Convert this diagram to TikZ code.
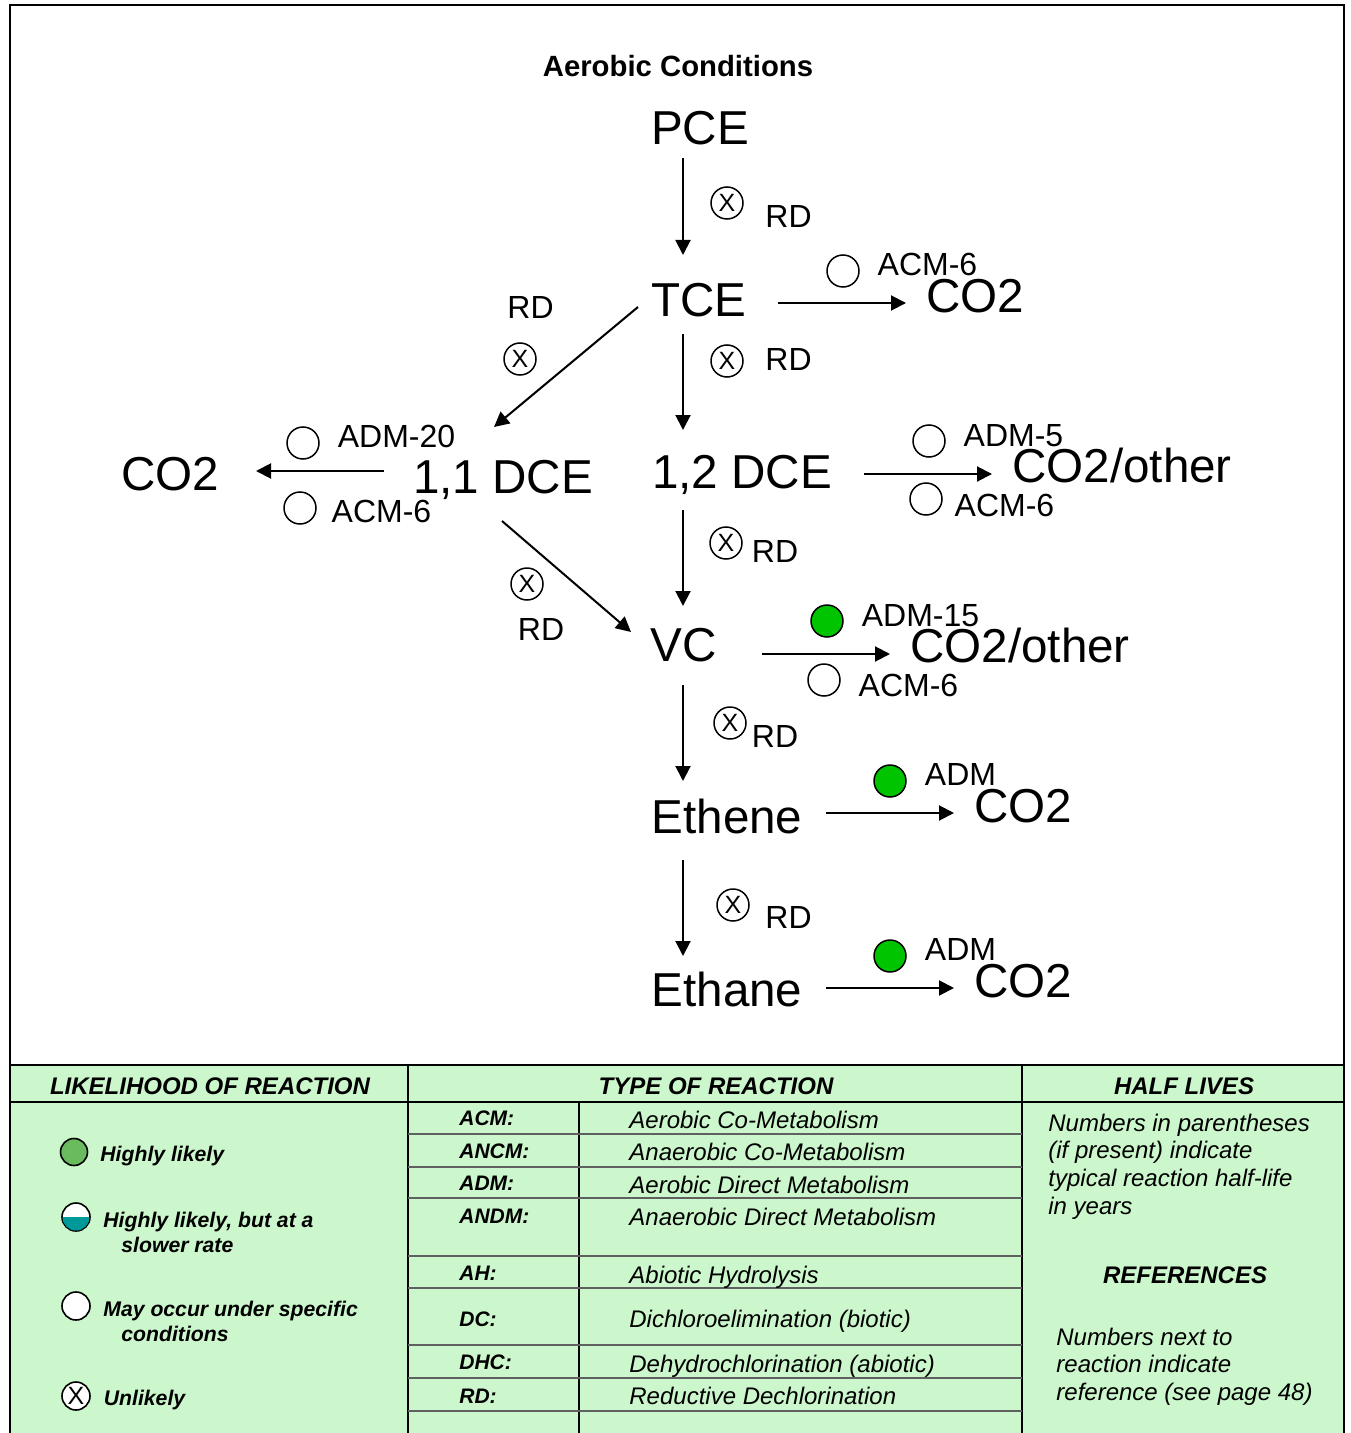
\documentclass[tikz,border=0pt]{standalone}
\usepackage{fontspec}
\setmainfont{Liberation Sans}
\usetikzlibrary{arrows.meta}
\definecolor{panel}{HTML}{CCF7CC}
\definecolor{okgreen}{HTML}{00C400}
\definecolor{leggreen}{HTML}{6ABB5E}
\definecolor{legteal}{HTML}{009999}
\definecolor{rowline}{HTML}{606060}
\tikzset{
  big/.style={font=\fontsize{23.8}{28}\selectfont,anchor=base,inner sep=0pt},
  lab/.style={font=\fontsize{16}{19}\selectfont,anchor=base,inner sep=0pt},
  ttl/.style={font=\fontsize{14.65}{17}\bfseries\selectfont,anchor=base,inner sep=0pt},
  hdr/.style={font=\fontsize{12}{15}\bfseries\itshape\selectfont,anchor=base,inner sep=0pt},
  legt/.style={font=\fontsize{10.6}{13}\bfseries\itshape\selectfont,anchor=base west,inner sep=0pt},
  abbr/.style={font=\fontsize{10.5}{13}\bfseries\itshape\selectfont,anchor=base west,inner sep=0pt},
  body/.style={font=\fontsize{12}{14}\itshape\selectfont,anchor=base west,inner sep=0pt},
  arr/.style={draw=black,line width=1pt,-{Triangle[length=7.5pt,width=7.5pt]}},
  open/.style={circle,draw=black,line width=0.75pt,fill=white,minimum size=16pt,inner sep=0pt},
  go/.style={open,fill=okgreen},
  xc/.style={open,font=\fontsize{12.5}{13}\selectfont},
  legopen/.style={circle,draw=black,line width=0.8pt,fill=white,minimum size=14pt,inner sep=0pt},
  rule/.style={line width=1pt,draw=black},
  row/.style={line width=1pt,draw=rowline},
  rowthin/.style={line width=0.6pt,draw=rowline},
}
\begin{document}
\begin{tikzpicture}[x=0.5pt,y=-0.5pt]
\useasboundingbox (0,0) rectangle (1350,1433);
\clip (0,0) rectangle (1350,1433);
% panel and frame
\fill[panel] (10,1065) rectangle (1344,1440);
\draw[rule] (10,1440) -- (10,5) -- (1344,5) -- (1344,1440);
\draw[rule] (10,1065) -- (1344,1065);
\draw[rule] (10,1102) -- (1344,1102);
\draw[rule] (408,1065) -- (408,1440);
\draw[rule] (1022,1065) -- (1022,1440);
\draw[rule] (579,1102) -- (579,1440);
\foreach \yy in {1134,1198,1256,1378,1411}
  \draw[row] (408,\yy) -- (1022,\yy);
\foreach \yy in {1167,1288,1345}
  \draw[rowthin] (408,\yy) -- (1022,\yy);
% title and compounds
\node[ttl] (title) at (678,77) {Aerobic Conditions};
\node[big] (PCE) at (700,144.5) {PCE};
\node[big] (TCE) at (699,316.5) {TCE};
\node[big] (co2a) at (975,313) {CO2};
\node[big] (dce12) at (742,488) {1,2 DCE};
\node[big] (othera) at (1122,482) {CO2/other};
\node[big] (dce11) at (503,493) {1,1 DCE};
\node[big] (co2b) at (170,490) {CO2};
\node[big] (VC) at (684,661) {VC};
\node[big] (otherb) at (1020,662) {CO2/other};
\node[big] (ethene) at (727,833) {Ethene};
\node[big] (co2c) at (1023,822) {CO2};
\node[big] (ethane) at (727,1006) {Ethane};
\node[big] (co2d) at (1023,997) {CO2};
% connectors (end points offset from the node base anchors)
\draw[arr] ([shift={(-17,13.5)}]PCE.base) -- ([shift={(-16,-61.5)}]TCE.base);
\draw[arr] ([shift={(79,-13.5)}]TCE.base) -- ([shift={(-69,-10)}]co2a.base);
\draw[arr] ([shift={(-16,17.5)}]TCE.base) -- ([shift={(-59,-58)}]dce12.base);
\draw[arr] ([shift={(-61,-9.5)}]TCE.base) -- ([shift={(-9,-66)}]dce11.base);
\draw[arr] ([shift={(-119,-22)}]dce11.base) -- ([shift={(86,-19)}]co2b.base);
\draw[arr] ([shift={(122,-14)}]dce12.base) -- ([shift={(-130,-8)}]othera.base);
\draw[arr] ([shift={(-59,22)}]dce12.base) -- ([shift={(-1,-55)}]VC.base);
\draw[arr] ([shift={(-1,28)}]dce11.base) -- ([shift={(-53,-29)}]VC.base);
\draw[arr] ([shift={(78,-7)}]VC.base) -- ([shift={(-130,-8)}]otherb.base);
\draw[arr] ([shift={(-1,24)}]VC.base) -- ([shift={(-44,-52)}]ethene.base);
\draw[arr] ([shift={(99,-20)}]ethene.base) -- ([shift={(-69,-9)}]co2c.base);
\draw[arr] ([shift={(-44,27)}]ethene.base) -- ([shift={(-44,-50)}]ethane.base);
\draw[arr] ([shift={(99,-18)}]ethane.base) -- ([shift={(-69,-9)}]co2d.base);
% reaction labels
\node[xc] (x1) at (727,203) {X}; \node[lab] (r1) at (788.5,228) {RD};
\node[open] (c1) at (843,271) {}; \node[lab] (a1) at (927.5,276) {ACM-6};
\node[lab] (r2) at (530.5,319) {RD}; \node[xc] (x2) at (520,359) {X};
\node[xc] (x3) at (727,361) {X}; \node[lab] (r3) at (788.5,371) {RD};
\node[open] (c2) at (303,443) {}; \node[lab] (a2) at (396.5,447) {ADM-20};
\node[open] (c3) at (300,508) {}; \node[lab] (a3) at (381.5,522) {ACM-6};
\node[open] (c4) at (929,441) {}; \node[lab] (a4) at (1013.5,446) {ADM-5};
\node[open] (c5) at (926,499) {}; \node[lab] (a5) at (1004.5,516) {ACM-6};
\node[xc] (x4) at (726,543) {X}; \node[lab] (r4) at (775,562) {RD};
\node[xc] (x5) at (527,584) {X}; \node[lab] (r5) at (541,640) {RD};
\node[go] (g1) at (827,621) {}; \node[lab] (a6) at (920.5,626) {ADM-15};
\node[open] (c6) at (824,680) {}; \node[lab] (a7) at (908.5,696) {ACM-6};
\node[xc] (x6) at (730,723) {X}; \node[lab] (r6) at (775,747) {RD};
\node[go] (g2) at (890,781) {}; \node[lab] (a8) at (960.5,785) {ADM};
\node[xc] (x7) at (733,905) {X}; \node[lab] (r7) at (788.5,928) {RD};
\node[go] (g3) at (890,956) {}; \node[lab] (a9) at (960.5,960) {ADM};
% headers
\node[hdr] (h1) at (210,1094) {LIKELIHOOD OF REACTION};
\node[hdr] (h2) at (716,1094) {TYPE OF REACTION};
\node[hdr] (h3) at (1184,1094) {HALF LIVES};
% legend
\node[legopen,fill=leggreen,minimum size=13.5pt] (l1) at (74,1152) {};
\node[legt] (lt1) at (100,1161) {Highly likely};
\node[legopen] (l2) at (76,1217) {};
\begin{scope}
  \clip (60,1217) rectangle (92,1235);
  \fill[legteal] (76,1217) circle (13.5);
\end{scope}
\node[legt] (lt2) at (103,1227) {Highly likely, but at a};
\node[legt] (lt2b) at (121,1252) {slower rate};
\node[legopen] (l3) at (76,1306) {};
\node[legt] (lt3) at (103,1316) {May occur under specific};
\node[legt] (lt3b) at (121,1341) {conditions};
\node[legopen,font=\fontsize{12.5}{13}\selectfont] (l4) at (76,1396) {X};
\node[legt] (lt4) at (103.5,1405) {Unlikely};
% reaction types
\node[abbr] (t1) at (459,1125) {ACM:};
\node[body] (d1) at (629,1128) {Aerobic Co-Metabolism};
\node[abbr] (t2) at (459,1158) {ANCM:};
\node[body] (d2) at (629,1160) {Anaerobic Co-Metabolism};
\node[abbr] (t3) at (459,1190) {ADM:};
\node[body] (d3) at (629,1193) {Aerobic Direct Metabolism};
\node[abbr] (t4) at (459,1223) {ANDM:};
\node[body] (d4) at (629,1225) {Anaerobic Direct Metabolism};
\node[abbr] (t5) at (459,1280) {AH:};
\node[body] (d5) at (629,1283) {Abiotic Hydrolysis};
\node[abbr] (t6) at (459,1326) {DC:};
\node[body] (d6) at (629,1327) {Dichloroelimination (biotic)};
\node[abbr] (t7) at (459,1369) {DHC:};
\node[body] (d7) at (629,1372) {Dehydrochlorination (abiotic)};
\node[abbr] (t8) at (459,1403) {RD:};
\node[body] (d8) at (629,1404) {Reductive Dechlorination};
% half lives
\node[body] (n1) at (1048,1131) {Numbers in parentheses};
\node[body] (n2) at (1048,1158) {(if present) indicate};
\node[body] (n3) at (1048,1186) {typical reaction half-life};
\node[body] (n4) at (1048,1214) {in years};
\node[hdr] (h4) at (1185,1283) {REFERENCES};
\node[body] (m1) at (1056,1345) {Numbers next to};
\node[body] (m2) at (1056,1372) {reaction indicate};
\node[body] (m3) at (1056,1400) {reference (see page 48)};
\end{tikzpicture}
\end{document}
